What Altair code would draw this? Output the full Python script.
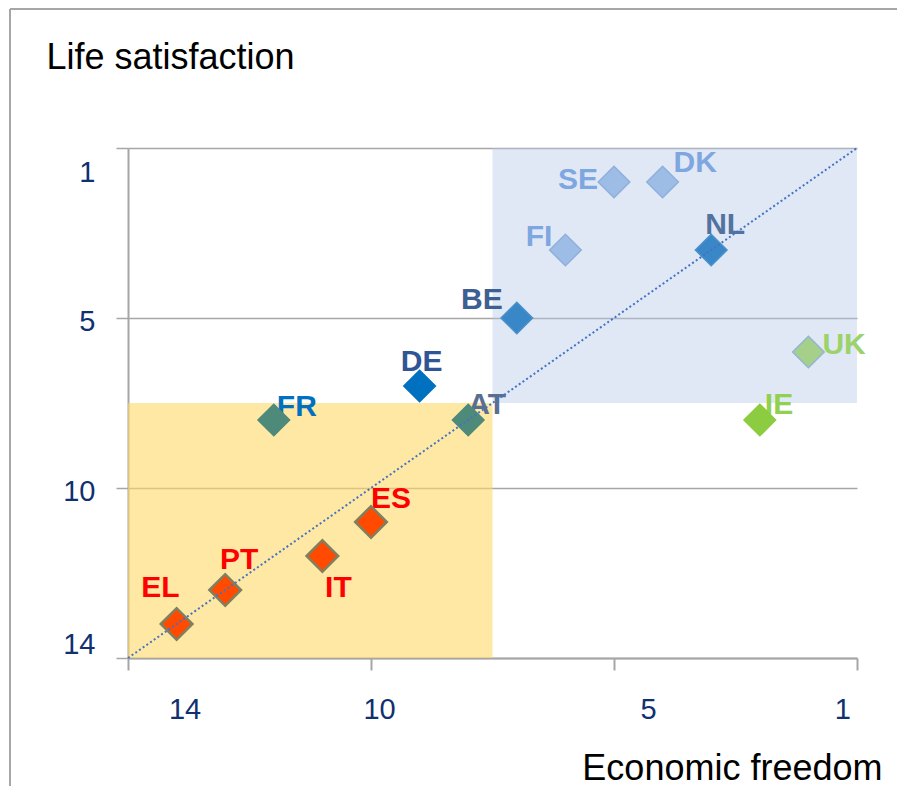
import altair as alt
import pandas as pd

# ---- data (ranks) ----
countries = ["SE", "DK", "FI", "NL", "BE", "DE", "FR", "AT", "UK", "IE", "ES", "IT", "PT", "EL"]
econ_freedom = [5, 4, 6, 3, 7, 9, 12, 8, 1, 2, 10, 11, 13, 14]
life_satisfaction = [1, 1, 3, 3, 5, 7, 8, 8, 6, 8, 11, 12, 13, 14]

x_tick_values = [15, 14, 10, 5, 1, 0]
y_tick_values = [0, 1, 5, 10, 14, 15]

# quadrant boxes
box_x1 = [7.5, 15]
box_x2 = [0, 7.5]
box_y1 = [0, 7.5]
box_y2 = [7.5, 15]
box_name = ["top", "bottom"]

diag_x = [15, 0]
diag_y = [15, 0]

# ---- styles ----
FONT = "Liberation Sans"
NAVY = "#10306f"
fill_col = {
    "SE": "#9dbde6", "DK": "#9dbde6", "FI": "#9dbde6",
    "NL": "#3a87c8", "BE": "#3a87c8", "DE": "#0070c0",
    "FR": "#4e8a7a", "AT": "#4e8a7a",
    "UK": "#a6d08a", "IE": "#8ccc40",
    "ES": "#ff4a00", "IT": "#ff4a00", "PT": "#ff4a00", "EL": "#ff4a00",
}
stroke_col = {
    "SE": "#8fb0dc", "DK": "#8fb0dc", "FI": "#8fb0dc",
    "NL": "#4a90cc", "BE": "#4a90cc", "DE": "#0070c0",
    "FR": "#4e8a7a", "AT": "#4e8a7a",
    "UK": "#93b5d5", "IE": "#8ccc40",
    "ES": "#7f8060", "IT": "#7f8060", "PT": "#7f8060", "EL": "#7f8060",
}
stroke_w = {c: (2.5 if c in ("ES", "IT", "PT", "EL") else 1.5) for c in countries}
label_col = {
    "SE": "#7ea6e0", "DK": "#7ea6e0", "FI": "#7ea6e0",
    "NL": "#52729f", "BE": "#3d5f91", "DE": "#2f5597",
    "FR": "#0070c0", "AT": "#5a6f8f",
    "UK": "#9bd26a", "IE": "#92d050",
    "ES": "#ff0000", "IT": "#ff0000", "PT": "#ff0000", "EL": "#ff0000",
}
# label placement: (align, dx, dy)
placement = {
    "SE": ("right", -16, -2), "DK": ("left", 11, -19), "FI": ("right", -13, -13),
    "NL": ("center", 14, -25), "BE": ("right", -14, -18), "DE": ("center", 2, -24),
    "FR": ("left", 3, -13), "AT": ("left", 0, -15), "UK": ("left", 14, -7),
    "IE": ("left", 5, -15), "ES": ("left", 0, -23), "IT": ("center", 16, 32),
    "PT": ("center", 14, -30), "EL": ("right", 3, -36),
}
box_fill = {"top": "#b4c7e7", "bottom": "#ffd966"}
box_opacity = {"top": 0.42, "bottom": 0.6}

df = pd.DataFrame({"country": countries, "ef": econ_freedom, "ls": life_satisfaction})
df["fill"] = df["country"].map(fill_col)
df["stroke"] = df["country"].map(stroke_col)
df["sw"] = df["country"].map(stroke_w)

boxes = pd.DataFrame({"x1": box_x1, "x2": box_x2, "y1": box_y1, "y2": box_y2, "name": box_name})
boxes["fill"] = boxes["name"].map(box_fill)
boxes["op"] = boxes["name"].map(box_opacity)
diag = pd.DataFrame({"x": diag_x, "y": diag_y})

xscale = alt.Scale(domain=[0, 15], reverse=True, nice=False, zero=False)
yscale = alt.Scale(domain=[0, 15], reverse=True, nice=False, zero=False)

xaxis = alt.Axis(
    values=x_tick_values,
    labelExpr="(datum.value == 15 || datum.value == 0) ? '' : datum.label",
    tickOpacity={"condition": {"test": "datum.value == 14 || datum.value == 1", "value": 0}, "value": 1},
    grid=False,
    domainColor="#a6a6a6", domainWidth=2,
    tickColor="#a6a6a6", tickWidth=2, tickSize=12,
    labelFontSize=29, labelColor=NAVY, labelPadding=25,
    labelOffset={"condition": {"test": "datum.value <= 5", "value": 34}, "value": 8},
    labelOverlap=False, labelFlush=False, labelBound=False,
    title="Economic freedom", titleFontSize=36, titleFontWeight="normal", titleColor="#000000",
    titleAlign="right", titleBaseline="alphabetic", titleX=754, titleY=121,
)
yaxis = alt.Axis(
    values=y_tick_values,
    labelExpr="(datum.value == 15 || datum.value == 0) ? '' : datum.label",
    tickOpacity={"condition": {"test": "datum.value == 14 || datum.value == 1", "value": 0}, "value": 1},
    gridOpacity={"condition": {"test": "datum.value == 14 || datum.value == 1", "value": 0}, "value": 1},
    grid=True, gridColor="#a6a6a6", gridWidth=1.5,
    domainColor="#a6a6a6", domainWidth=2,
    tickColor="#a6a6a6", tickWidth=1.5, tickSize=12,
    labelFontSize=29, labelColor=NAVY, labelPadding=21,
    labelOffset={"condition": [
        {"test": "datum.value == 1", "value": -10},
        {"test": "datum.value == 14", "value": 20},
    ], "value": 3},
    labelOverlap=False, labelFlush=False, labelBound=False,
    title="Life satisfaction", titleFontSize=36, titleFontWeight="normal", titleColor="#000000",
    titleAngle=0, titleAlign="left", titleBaseline="alphabetic", titleX=-82, titleY=-80,
)

def X(f):
    return alt.X(f, type="quantitative", scale=xscale, axis=xaxis)

def Y(f):
    return alt.Y(f, type="quantitative", scale=yscale, axis=yaxis)

rects = alt.Chart(boxes).mark_rect().encode(
    x=X("x1"), x2="x2", y=Y("y1"), y2="y2",
    fill=alt.Fill("fill:N", scale=None),
    opacity=alt.Opacity("op:Q", scale=None),
)

labels = []
for c in countries:
    al, dx, dy = placement[c]
    labels.append(
        alt.Chart(df).transform_filter(alt.datum.country == c).mark_text(
            align=al, baseline="middle", dx=dx, dy=dy, font=FONT,
            fontSize=30, fontWeight="bold", color=label_col[c],
        ).encode(x=X("ef"), y=Y("ls"), text="country:N")
    )

points = alt.Chart(df).mark_point(shape="diamond", filled=True, size=1000, opacity=1).encode(
    x=X("ef"), y=Y("ls"),
    fill=alt.Fill("fill:N", scale=None),
    stroke=alt.Stroke("stroke:N", scale=None),
    strokeWidth=alt.StrokeWidth("sw:Q", scale=None),
)

line = alt.Chart(diag).mark_line(color="#4472c4", strokeWidth=2, strokeDash=[2, 2.5]).encode(
    x=X("x"), y=Y("y")
)

frame_top = alt.Chart(alt.Data(values=[{}])).mark_rule(color="#a6a6a6", strokeWidth=2).encode(
    x=alt.value(-118), x2=alt.value(790), y=alt.value(-139)
)
frame_left = alt.Chart(alt.Data(values=[{}])).mark_rule(color="#a6a6a6", strokeWidth=2).encode(
    x=alt.value(-118), y=alt.value(-139), y2=alt.value(665)
)

chart = alt.layer(rects, *labels, points, line, frame_top, frame_left).properties(
    width=729, height=510,
    autosize=alt.AutoSizeParams(type="none"),
    padding={"left": 120, "top": 140, "right": 40, "bottom": 128},
    background="#ffffff",
).configure_view(strokeWidth=0).configure_axis(
    labelFont=FONT, titleFont=FONT
)

chart.save("out.html", embed_options={"renderer": "svg", "actions": False})
